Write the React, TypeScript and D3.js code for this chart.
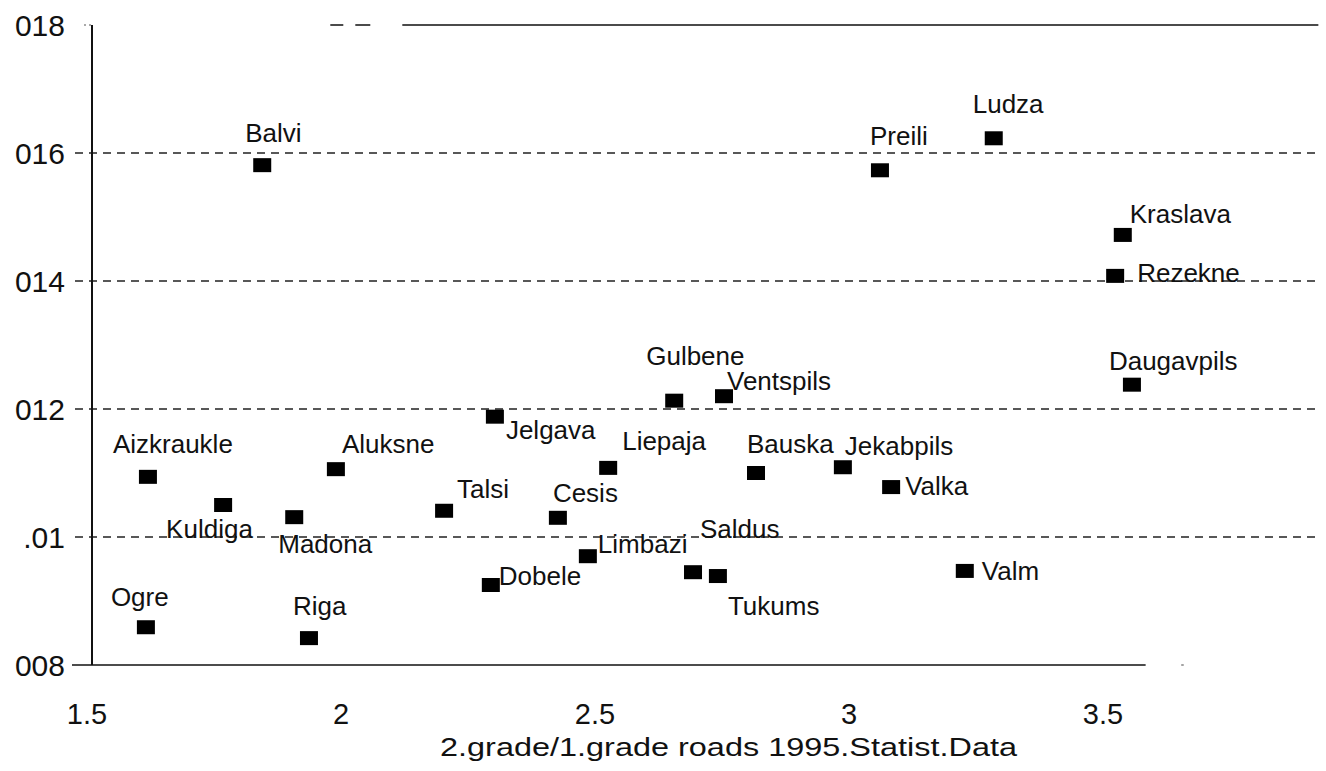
import React from 'react';
import * as d3 from 'd3';

// districts, 2.grade/1.grade roads ratio (x) and the y measure
const districts = [
  'Aizkraukle', 'Aluksne', 'Balvi', 'Bauska', 'Cesis', 'Daugavpils', 'Dobele',
  'Gulbene', 'Jekabpils', 'Jelgava', 'Kraslava', 'Kuldiga', 'Liepaja', 'Limbazi',
  'Ludza', 'Madona', 'Ogre', 'Preili', 'Rezekne', 'Riga', 'Saldus', 'Talsi',
  'Tukums', 'Valka', 'Valm', 'Ventspils',
];
const roadRatio = [
  1.616, 1.986, 1.841, 2.813, 2.423, 3.553, 2.291,
  2.652, 2.984, 2.299, 3.535, 1.764, 2.522, 2.482,
  3.281, 1.904, 1.612, 3.057, 3.520, 1.933, 2.689, 2.199,
  2.738, 3.079, 3.224, 2.750,
];
const yValues = [
  0.01094, 0.01106, 0.01581, 0.01100, 0.01030, 0.01238, 0.00925,
  0.01213, 0.01109, 0.01188, 0.01472, 0.01050, 0.01108, 0.00970,
  0.01623, 0.01031, 0.00859, 0.01573, 0.01408, 0.00842, 0.00945, 0.01041,
  0.00939, 0.01078, 0.00947, 0.01220,
];

const xTicks = [1.5, 2, 2.5, 3, 3.5];
const xTickLabels = ['1.5', '2', '2.5', '3', '3.5'];
const yTicks = [0.008, 0.01, 0.012, 0.014, 0.016, 0.018];
const yTickLabels = ['008', '.01', '012', '014', '016', '018'];
const gridValues = [0.01, 0.012, 0.014, 0.016];
const xTitle = '2.grade/1.grade roads 1995.Statist.Data';

// label placement relative to the marker (text start, baseline)
const labelOffset: Record<string, [number, number]> = {
  Aizkraukle: [-35, -24], Aluksne: [6, -16], Balvi: [-17, -23], Bauska: [-9, -20],
  Cesis: [-5, -16], Daugavpils: [-23, -15], Dobele: [8, 0], Gulbene: [-28, -36],
  Jekabpils: [2, -12], Jelgava: [11, 22], Kraslava: [7, -12], Kuldiga: [-57, 33],
  Liepaja: [14, -18], Limbazi: [10, -3], Ludza: [-21, -25], Madona: [-16, 36],
  Ogre: [-35, -21], Preili: [-10, -25], Rezekne: [22, 6], Riga: [-16, -23],
  Saldus: [7, -34], Talsi: [13, -13], Tukums: [10, 39], Valka: [14, 8],
  Valm: [17, 9], Ventspils: [3, -6],
};

const W = 1326;
const H = 771;
const font = 'Arial, "Liberation Sans", Helvetica, sans-serif';

export default function App() {
  const x = d3.scaleLinear().domain([1.5, 3.5]).range([89, 1105]);
  const y = d3.scaleLinear().domain([0.008, 0.018]).range([665, 25]);
  const xEnd = x(3.92);
  const axisX = 92;

  const points = districts.map((name, i) => ({ name, x: roadRatio[i], y: yValues[i] }));

  return (
    <svg width={W} height={H} style={{ position: 'absolute', left: 0, top: 0, background: '#fff' }}
      fontFamily={font}>
      {/* dashed grid */}
      {gridValues.map(v => (
        <line key={v} x1={75} x2={xEnd} y1={y(v)} y2={y(v)}
          stroke="#222" strokeWidth={1.4} strokeDasharray="8 6" />
      ))}
      {/* top frame, broken at the left */}
      <line x1={x(1.975)} x2={xEnd} y1={y(0.018)} y2={y(0.018)}
        stroke="#111" strokeWidth={1.6} strokeDasharray="13 12 15 32 1000" />
      <line x1={84} x2={axisX} y1={y(0.018)} y2={y(0.018)} stroke="#555" strokeWidth={1} strokeDasharray="2 3" />
      {/* bottom axis line */}
      <line x1={72} x2={x(3.58)} y1={y(0.008)} y2={y(0.008)} stroke="#111" strokeWidth={1.6} />
      <line x1={x(3.65)} x2={x(3.655)} y1={y(0.008)} y2={y(0.008)} stroke="#666" strokeWidth={1.2} />
      {/* left axis */}
      <line x1={axisX} x2={axisX} y1={y(0.018)} y2={y(0.008)} stroke="#111" strokeWidth={2} />

      {/* y tick labels */}
      {yTicks.map((v, i) => (
        <text key={v} x={65} y={y(v) + 10.5} textAnchor="end" fontSize={30} fill="#111">
          {yTickLabels[i]}
        </text>
      ))}
      {/* x tick labels */}
      {xTicks.map((v, i) => (
        <text key={v} x={x(v) - 2} y={724} textAnchor="middle" fontSize={29} fill="#111">
          {xTickLabels[i]}
        </text>
      ))}
      <text x={440} y={756} fontSize={26} fill="#111" textLength={577} lengthAdjust="spacingAndGlyphs">
        {xTitle}
      </text>

      {/* markers */}
      {points.map(p => (
        <rect key={p.name} x={x(p.x) - 9} y={y(p.y) - 7} width={18} height={14} fill="#000" />
      ))}
      {/* marker labels */}
      {points.map(p => {
        const [dx, dy] = labelOffset[p.name];
        return (
          <text key={p.name} x={x(p.x) + dx} y={y(p.y) + dy} fontSize={26} fill="#111">
            {p.name}
          </text>
        );
      })}
    </svg>
  );
}
